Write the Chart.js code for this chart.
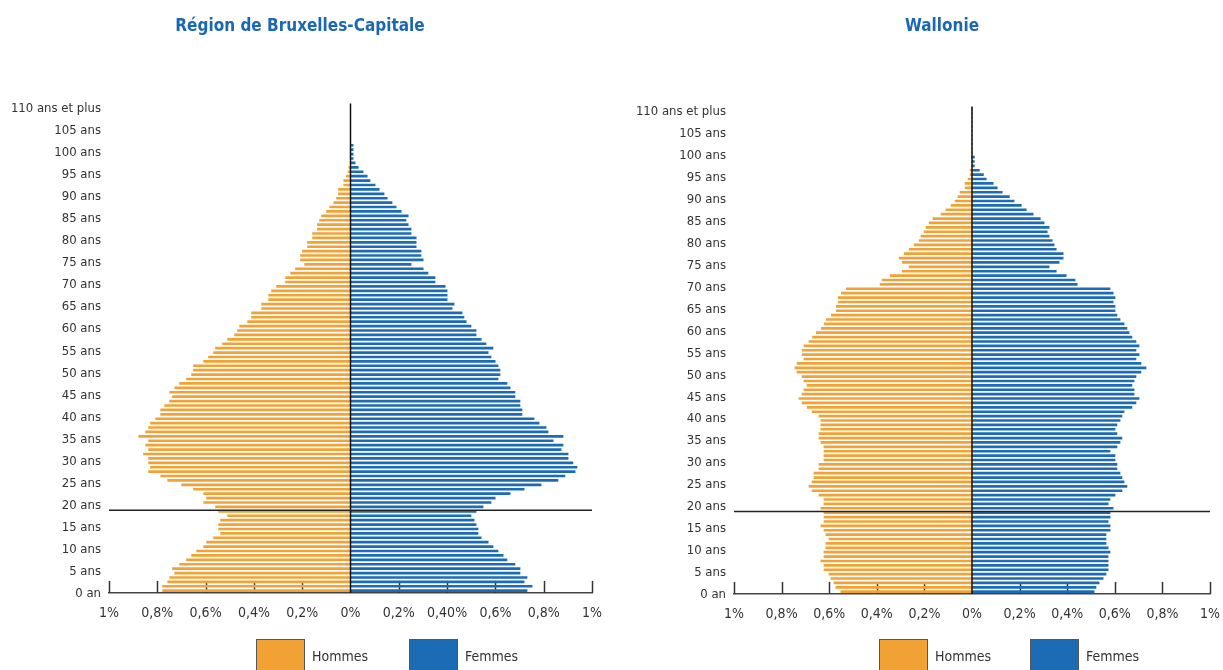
<!DOCTYPE html>
<html lang="fr">
<head>
<meta charset="utf-8">
<title>Pyramide des âges</title>
<script src="https://cdn.jsdelivr.net/npm/chart.js@4.4.1/dist/chart.umd.min.js"></script>
<style>
  html, body { margin: 0; padding: 0; background: #fff; overflow: hidden; }
  body { width: 1223px; height: 670px; position: relative;
         font-family: 'Liberation Sans Narrow', 'DejaVu Sans Condensed', Roboto, sans-serif;
         font-stretch: condensed; color: #333; }
  .panel { position: absolute; top: 0; height: 640px; }
  .title { position: absolute; top: 15px; transform: translateX(-50%);
           font-weight: bold; font-size: 17px; color: #1a68b2; white-space: nowrap; }
  .swatch { position: absolute; top: 639px; width: 47px; height: 34px; border: 1px solid #555; }
  .lbl { position: absolute; top: 648px; font-size: 14px; color: #333; white-space: nowrap; }
</style>
</head>
<body>
<div class="panel" style="left:0;width:611px"><canvas id="bxl"></canvas></div>
<div class="panel" style="left:611px;width:612px"><canvas id="wal"></canvas></div>

<script>
// ages 0 .. 110, share of total population in %
const ages = Array.from({ length: 111 }, (_, i) => i);
const ageLabels = ages.map(a => a === 0 ? '0 an' : (a === 110 ? '110 ans et plus' : a + ' ans'));

const bxlMen = [
  0.778,0.778,0.757,0.749,0.728,0.737,0.708,0.679,0.658,0.637,
  0.608,0.596,0.567,0.538,0.546,0.546,0.538,0.509,0.546,0.559,
  0.608,0.596,0.608,0.650,0.699,0.757,0.786,0.836,0.828,0.836,
  0.836,0.857,0.836,0.848,0.836,0.877,0.848,0.836,0.828,0.807,
  0.786,0.786,0.770,0.749,0.737,0.749,0.728,0.708,0.679,0.658,
  0.650,0.650,0.608,0.588,0.567,0.559,0.530,0.509,0.480,0.468,
  0.459,0.426,0.410,0.410,0.368,0.368,0.339,0.339,0.327,0.306,
  0.269,0.269,0.248,0.228,0.190,0.207,0.207,0.199,0.178,0.178,
  0.157,0.157,0.137,0.137,0.128,0.120,0.099,0.086,0.069,0.058,
  0.050,0.050,0.028,0.028,0.017,0.010,0.007,0,0,0,
  0,0,0,0,0,0,0,0,0,0,
  0
];
const bxlWomen = [
  0.731,0.752,0.719,0.731,0.702,0.702,0.681,0.648,0.632,0.611,
  0.590,0.570,0.541,0.528,0.528,0.520,0.512,0.499,0.520,0.549,
  0.582,0.599,0.661,0.719,0.789,0.859,0.888,0.930,0.938,0.921,
  0.901,0.901,0.872,0.880,0.839,0.880,0.818,0.810,0.781,0.760,
  0.710,0.710,0.702,0.702,0.681,0.681,0.661,0.648,0.611,0.619,
  0.619,0.611,0.599,0.582,0.570,0.590,0.561,0.541,0.520,0.520,
  0.499,0.479,0.470,0.462,0.421,0.429,0.400,0.400,0.400,0.392,
  0.350,0.350,0.321,0.301,0.251,0.301,0.292,0.292,0.272,0.272,
  0.272,0.251,0.251,0.239,0.230,0.239,0.210,0.189,0.172,0.152,
  0.139,0.119,0.102,0.081,0.069,0.052,0.032,0.019,0.011,0.011,
  0.011,0.011,0,0,0,0,0,0,0,0,
  0
];
const walMen = [
  0.551,0.572,0.580,0.593,0.601,0.622,0.622,0.635,0.622,0.622,
  0.614,0.614,0.601,0.614,0.622,0.635,0.622,0.622,0.622,0.635,
  0.622,0.622,0.643,0.672,0.685,0.672,0.664,0.664,0.643,0.643,
  0.622,0.622,0.622,0.622,0.635,0.643,0.643,0.635,0.635,0.635,
  0.643,0.672,0.693,0.714,0.727,0.714,0.706,0.693,0.706,0.714,
  0.735,0.744,0.735,0.706,0.714,0.714,0.706,0.685,0.670,0.654,
  0.633,0.621,0.612,0.591,0.570,0.570,0.562,0.562,0.549,0.528,
  0.386,0.377,0.344,0.293,0.264,0.293,0.306,0.285,0.264,0.243,
  0.222,0.214,0.201,0.193,0.180,0.164,0.130,0.109,0.088,0.071,
  0.059,0.050,0.029,0.029,0.017,0.008,0.008,0,0,0,
  0,0,0,0,0,0,0,0,0,0,
  0
];
const walWomen = [
  0.513,0.521,0.534,0.551,0.563,0.572,0.572,0.572,0.572,0.580,
  0.572,0.563,0.563,0.563,0.580,0.580,0.572,0.580,0.580,0.593,
  0.572,0.580,0.601,0.630,0.651,0.639,0.630,0.622,0.609,0.609,
  0.601,0.601,0.580,0.609,0.622,0.630,0.609,0.601,0.609,0.622,
  0.630,0.639,0.672,0.689,0.702,0.681,0.681,0.672,0.681,0.689,
  0.710,0.731,0.710,0.689,0.702,0.689,0.702,0.689,0.672,0.660,
  0.651,0.639,0.622,0.609,0.601,0.601,0.593,0.601,0.593,0.580,
  0.442,0.433,0.396,0.354,0.324,0.366,0.383,0.383,0.354,0.345,
  0.337,0.324,0.316,0.324,0.303,0.287,0.257,0.228,0.207,0.177,
  0.157,0.127,0.106,0.089,0.060,0.048,0.031,0.010,0.010,0.010,
  0,0,0,0,0,0,0,0,0,0,
  0
];

const bxlTickLabels = ['1%','0,8%','0,6%','0,4%','0,2%','0%','0,2%','0,40%','0,6%','0,8%','1%'];
const walTickLabels = ['1%','0,8%','0,6%','0,4%','0,2%','0%','0,2%','0,4%','0,6%','0,8%','1%'];
const seriesNames = ['Hommes', 'Femmes'];
const separatorAge = 18.25;   // trait entre mineurs et majeurs

const ORANGE = '#f2a235';
const BLUE = '#1b6bb5';
const FONT = "'Liberation Sans Narrow', 'DejaVu Sans Condensed', Roboto, sans-serif";
const PANEL_H = 640, XAXIS_H = 30;

Chart.defaults.font.family = FONT;
Chart.defaults.color = '#333';

// traits : petites graduations sous les barres, axe 0 et ligne des 18 ans par-dessus
const pyramidLines = {
  id: 'pyramidLines',
  beforeDatasetsDraw(chart) {
    const { ctx, chartArea: a, scales: { x } } = chart;
    ctx.save();
    ctx.strokeStyle = '#333';
    ctx.lineWidth = 1.5;
    x.ticks.forEach(t => {
      if (Math.abs(t.value) < 1e-9) return;
      const px = Math.round(x.getPixelForValue(t.value)) + 0.5;
      ctx.beginPath();
      ctx.moveTo(px, a.bottom);
      ctx.lineTo(px, a.bottom - 12);
      ctx.stroke();
    });
    ctx.restore();
  },
  afterDatasetsDraw(chart) {
    const { ctx, chartArea: a, scales: { x, y } } = chart;
    ctx.save();
    ctx.strokeStyle = '#111';
    ctx.lineWidth = 1.5;
    const x0 = x.getPixelForValue(0);
    ctx.beginPath();
    ctx.moveTo(x0, a.top);
    ctx.lineTo(x0, a.bottom);
    ctx.stroke();
    const ys = y.getPixelForValue(separatorAge);
    ctx.strokeStyle = '#222';
    ctx.beginPath();
    ctx.moveTo(a.left, ys);
    ctx.lineTo(a.right, ys);
    ctx.stroke();
    ctx.restore();
  }
};

const panels = [
  { id: 'bxl', title: 'Région de Bruxelles-Capitale', men: bxlMen, women: bxlWomen, xLabels: bxlTickLabels,
    left: 0, width: 611, area: { left: 109, right: 592, top: 103.4, bottom: 592.9 },
    titleX: 300, legendX: [256, 409] },
  { id: 'wal', title: 'Wallonie', men: walMen, women: walWomen, xLabels: walTickLabels,
    left: 611, width: 612, area: { left: 734, right: 1211, top: 106.6, bottom: 593.9 },
    titleX: 942, legendX: [879, 1030] }
];

panels.forEach(p => {
  const yAxisW = p.area.left - p.left;
  const chart = new Chart(document.getElementById(p.id), {
    type: 'bar',
    data: {
      labels: ages,
      datasets: [
        { label: seriesNames[0], data: p.men.map(v => -v), backgroundColor: ORANGE, barThickness: 2 },
        { label: seriesNames[1], data: p.women, backgroundColor: BLUE, barThickness: 2 }
      ]
    },
    options: {
      indexAxis: 'y',
      responsive: true,
      maintainAspectRatio: false,
      animation: false,
      layout: {
        padding: {
          left: 0,
          right: p.left + p.width - p.area.right,
          top: p.area.top,
          bottom: PANEL_H - p.area.bottom - XAXIS_H
        }
      },
      plugins: { legend: { display: false }, tooltip: { enabled: false } },
      scales: {
        x: {
          type: 'linear', min: -1, max: 1, stacked: true,
          grid: { display: false, drawTicks: true, tickLength: 9 },
          border: { display: true, color: '#444', width: 1.5 },
          ticks: {
            stepSize: 0.2, autoSkip: false, maxRotation: 0, padding: 3,
            font: { size: 14 }, color: '#333',
            callback: (v, i) => p.xLabels[i]
          },
          afterFit: s => { s.height = XAXIS_H; }
        },
        y: {
          type: 'category', reverse: true, stacked: true,
          grid: { display: false, drawTicks: false },
          border: { display: false },
          ticks: {
            autoSkip: false, padding: 8, labelOffset: 3, font: { size: 13 }, color: '#333',
            callback: (v, i) => (ages[i] % 5 === 0 ? ageLabels[i] : '')
          },
          afterFit: s => { s.width = yAxisW; }
        }
      }
    },
    plugins: [pyramidLines]
  });

  const t = document.createElement('div');
  t.className = 'title';
  t.style.left = p.titleX + 'px';
  t.textContent = p.title;
  document.body.appendChild(t);

  chart.data.datasets.forEach((ds, i) => {
    const sw = document.createElement('div');
    sw.className = 'swatch';
    sw.style.left = p.legendX[i] + 'px';
    sw.style.background = ds.backgroundColor;
    document.body.appendChild(sw);
    const lb = document.createElement('div');
    lb.className = 'lbl';
    lb.style.left = (p.legendX[i] + 56) + 'px';
    lb.textContent = ds.label;
    document.body.appendChild(lb);
  });
});
</script>
</body>
</html>
